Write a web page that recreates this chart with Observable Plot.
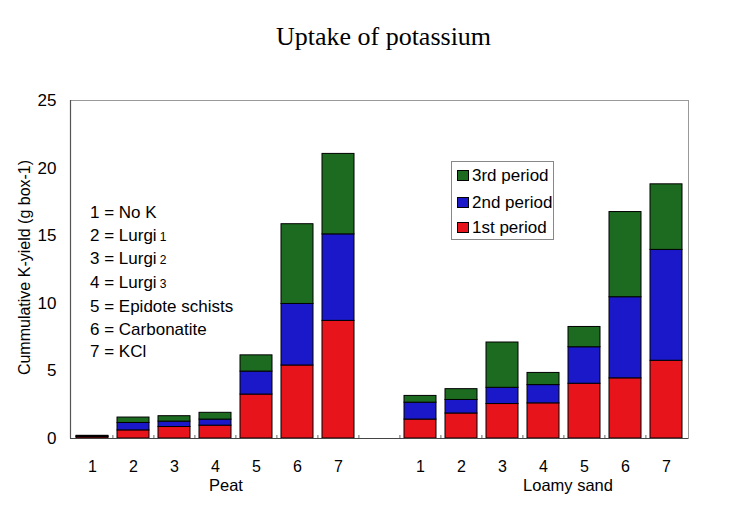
<!DOCTYPE html>
<html>
<head>
<meta charset="utf-8">
<script src="https://cdn.jsdelivr.net/npm/d3@7"></script>
<script src="https://cdn.jsdelivr.net/npm/@observablehq/plot@0.6"></script>
<style>
  body { margin: 0; background: #fff; }
  #wrap { position: relative; width: 744px; height: 525px; overflow: hidden; font-family: "Liberation Sans", Arial, sans-serif; }
  #wrap svg { position: absolute; left: 0; top: 0; }
  .ov { position: absolute; white-space: nowrap; color: #000; }
  #title { font-family: "Liberation Serif", "Times New Roman", serif; font-size: 26px; left: 0; width: 767px; text-align: center; top: 22px; }
  #notes { left: 90px; top: 202px; font-size: 17px; line-height: 22.7px; }
  #notes sub { font-size: 12px; vertical-align: baseline; margin-left: 3px; }
  #legend { left: 451px; top: 161px; width: 101px; height: 77px; border: 1px solid #888; background: #fff; font-size: 17px; }
  .lrow { position: absolute; left: 4px; height: 20px; line-height: 20px; }
  .sw { position: absolute; left: 1px; top: 4px; width: 10px; height: 9px; border: 1px solid #000; }
  .lt { position: absolute; left: 16px; top: 0; }
  .grp { font-size: 16.5px; }
</style>
</head>
<body>
<div id="wrap"></div>
<script>
// ---- data ----
const treatments = ["1", "2", "3", "4", "5", "6", "7"];
const soils = ["Peat", "Loamy sand"];
const periods = ["1st period", "2nd period", "3rd period"];
const periodColors = ["#e8141b", "#1a18c8", "#1d6b21"];
// values per treatment 1..7
const peat1st = [0.10, 0.60, 0.85, 0.95, 3.25, 5.40, 8.70];
const peat2nd = [0.05, 0.55, 0.40, 0.45, 1.70, 4.55, 6.40];
const peat3rd = [0.05, 0.40, 0.40, 0.50, 1.20, 5.90, 5.95];
const loam1st = [1.40, 1.85, 2.55, 2.60, 4.05, 4.45, 5.75];
const loam2nd = [1.25, 1.00, 1.20, 1.35, 2.70, 6.00, 8.20];
const loam3rd = [0.50, 0.80, 3.35, 0.90, 1.50, 6.30, 4.85];
const yTicks = [0, 5, 10, 15, 20, 25];
const notes = [["1 = No K", ""], ["2 = Lurgi", "1"], ["3 = Lurgi", "2"], ["4 = Lurgi", "3"],
               ["5 = Epidote schists", ""], ["6 = Carbonatite", ""], ["7 = KCl", ""]];

// ---- build table ----
const keyP = treatments.map(t => "P" + t);
const keyL = treatments.map(t => "L" + t);
const domain = [...keyP, "gap", ...keyL];
const series = [[peat1st, peat2nd, peat3rd], [loam1st, loam2nd, loam3rd]];
const rows = [];
[keyP, keyL].forEach((keys, s) => {
  keys.forEach((k, i) => {
    periods.forEach((p, j) => rows.push({key: k, period: p, value: series[s][j][i]}));
  });
});

const W = 744, H = 525;
const mL = 70, mR = 56, mT = 100, mB = 87;
const step = (W - mL - mR) / domain.length;

const chart = Plot.plot({
  width: W, height: H,
  marginLeft: mL, marginRight: mR, marginTop: mT, marginBottom: mB,
  style: {fontFamily: "Liberation Sans, Arial, sans-serif", color: "#000", background: "transparent"},
  x: {type: "band", domain, paddingInner: 0.22, paddingOuter: 0.11, label: null},
  y: {domain: [0, 25], label: null},
  color: {domain: periods, range: periodColors},
  marks: [
    Plot.frame({stroke: "#999", strokeWidth: 1}),
    Plot.barY(rows, Plot.stackY({x: "key", y: "value", fill: "period", order: periods, stroke: "#000", strokeWidth: 1})),
    Plot.ruleY([0], {stroke: "#444", strokeWidth: 1.2}),
    Plot.ruleX(domain.slice(1), {x: d => d, dx: -step / 2, y1: 0, y2: 0.22, stroke: "#666"}),
    Plot.axisX({tickSize: 0, tickPadding: 22, fontSize: 16, tickFormat: d => d === "gap" ? "" : d.slice(1)}),
    Plot.axisY({ticks: yTicks, tickSize: 0, tickPadding: 14, fontSize: 17, label: null}),
    Plot.text(["Cummulative K-yield (g box-1)"], {text: d => d, frameAnchor: "left", textAnchor: "middle", rotate: -90, dx: -46, dy: -2, fontSize: 16, fill: "#000"})
  ]
});
// darker left axis line
const wrap = document.getElementById("wrap");
wrap.appendChild(chart);
d3.select(chart).append("line")
  .attr("x1", mL + 0.5).attr("x2", mL + 0.5).attr("y1", mT).attr("y2", H - mB)
  .attr("stroke", "#555").attr("stroke-width", 1.2);

// title
const t = document.createElement("div");
t.className = "ov"; t.id = "title"; t.textContent = "Uptake of potassium";
wrap.appendChild(t);

// notes
const n = document.createElement("div");
n.className = "ov"; n.id = "notes";
n.innerHTML = notes.map(([a, b]) => a + (b ? "<sub>" + b + "</sub>" : "")).join("<br>");
wrap.appendChild(n);

// legend
const lg = document.createElement("div");
lg.className = "ov"; lg.id = "legend";
const order = [2, 1, 0];
const rowTops = [4, 30.5, 56];
order.forEach((pi, r) => {
  const row = document.createElement("div");
  row.className = "lrow"; row.style.top = rowTops[r] + "px";
  row.innerHTML = `<div class="sw" style="background:${periodColors[pi]}"></div><div class="lt">${periods[pi]}</div>`;
  lg.appendChild(row);
});
wrap.appendChild(lg);

// group labels
const grpCenters = [226, 568];
soils.forEach((s, i) => {
  const g = document.createElement("div");
  g.className = "ov grp"; g.textContent = s;
  g.style.left = (grpCenters[i] - 100) + "px"; g.style.width = "200px"; g.style.textAlign = "center";
  g.style.top = "476px";
  wrap.appendChild(g);
});
</script>
</body>
</html>
